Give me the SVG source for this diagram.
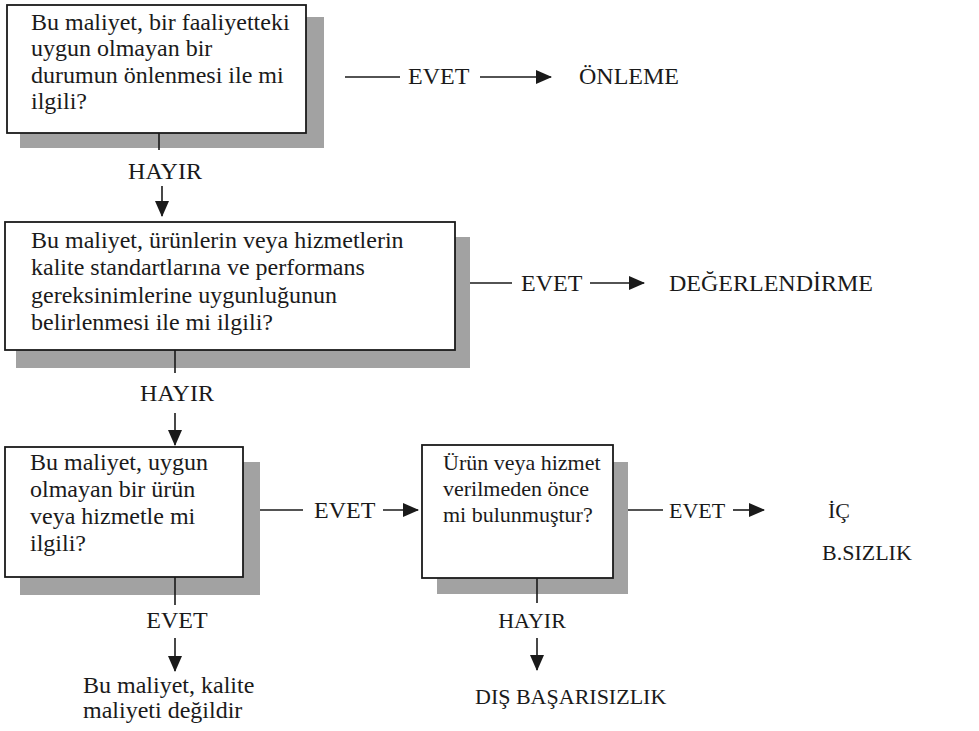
<svg xmlns="http://www.w3.org/2000/svg" width="979" height="731" viewBox="0 0 979 731">
<style>
  .box { fill: #ffffff; stroke: #1a1a1a; stroke-width: 1.8; }
  .shadow { fill: #a2a2a2; }
  .t { font-family: "Liberation Serif", "Times New Roman", serif; font-size: 24px; fill: #1a1a1a; }
  .lbl { font-family: "Liberation Serif", "Times New Roman", serif; font-size: 24px; fill: #1a1a1a; }
  .s { font-size: 22px; }
  .c { text-anchor: middle; }
  .ln { stroke: #1a1a1a; stroke-width: 1.6; fill: none; }
</style>
<defs>
  <marker id="ahB" markerWidth="16" markerHeight="14" refX="15" refY="7" orient="auto" markerUnits="userSpaceOnUse" viewBox="0 0 16 14">
    <path d="M0,0 L16,7 L0,14 Z" fill="#1a1a1a"/>
  </marker>
</defs>
<rect width="979" height="731" fill="#ffffff"/>

<g id="node-q1">
  <rect class="shadow" x="20" y="17" width="304" height="131"/>
  <rect class="box" x="7" y="5" width="299" height="128"/>
  <text class="t" x="31" y="30">Bu maliyet, bir faaliyetteki</text>
  <text class="t" x="31" y="56">uygun olmayan bir</text>
  <text class="t" x="31" y="83">durumun önlenmesi ile mi</text>
  <text class="t" x="31" y="109">ilgili?</text>
</g>

<g id="node-onleme">
  <text class="lbl" x="579" y="84">ÖNLEME</text>
</g>

<g id="node-q2">
  <rect class="shadow" x="16" y="237" width="454" height="131"/>
  <rect class="box" x="5" y="222" width="450" height="128"/>
  <text class="t" x="31" y="248">Bu maliyet, ürünlerin veya hizmetlerin</text>
  <text class="t" x="31" y="275">kalite standartlarına ve performans</text>
  <text class="t" x="31" y="303">gereksinimlerine uygunluğunun</text>
  <text class="t" x="31" y="330">belirlenmesi ile mi ilgili?</text>
</g>

<g id="node-degerlendirme">
  <text class="lbl" x="669" y="291">DEĞERLENDİRME</text>
</g>

<g id="node-q3">
  <rect class="shadow" x="20" y="462" width="240" height="133"/>
  <rect class="box" x="5" y="447" width="238" height="130"/>
  <text class="t" x="30" y="470">Bu maliyet, uygun</text>
  <text class="t" x="30" y="497">olmayan bir ürün</text>
  <text class="t" x="30" y="524">veya hizmetle mi</text>
  <text class="t" x="30" y="551">ilgili?</text>
</g>

<g id="node-q4">
  <rect class="shadow" x="437" y="462" width="191" height="132"/>
  <rect class="box" x="422" y="445" width="191" height="133"/>
  <text class="t s" x="443" y="470">Ürün veya hizmet</text>
  <text class="t s" x="443" y="496">verilmeden önce</text>
  <text class="t s" x="443" y="522">mi bulunmuştur?</text>
</g>

<g id="node-ic">
  <text class="lbl s" x="828" y="518">İÇ</text>
  <text class="lbl s" x="822" y="560">B.SIZLIK</text>
</g>

<g id="node-notquality">
  <text class="t" x="83" y="693">Bu maliyet, kalite</text>
  <text class="t" x="83" y="718">maliyeti değildir</text>
</g>

<g id="node-dis">
  <text class="lbl s" x="475" y="704">DIŞ BAŞARISIZLIK</text>
</g>

<g id="connectors">
  <line class="ln" x1="345" y1="77" x2="400" y2="77"/>
  <text class="lbl" x="408" y="84">EVET</text>
  <line class="ln" x1="480" y1="77" x2="551" y2="77" marker-end="url(#ahB)"/>

  <line class="ln" x1="159" y1="133" x2="159" y2="150"/>
  <text class="lbl c" x="165" y="179">HAYIR</text>
  <line class="ln" x1="162" y1="186" x2="162" y2="216" marker-end="url(#ahB)"/>

  <line class="ln" x1="470" y1="283" x2="512" y2="283"/>
  <text class="lbl" x="521" y="291">EVET</text>
  <line class="ln" x1="590" y1="283" x2="644" y2="283" marker-end="url(#ahB)"/>

  <line class="ln" x1="175" y1="350" x2="175" y2="373"/>
  <text class="lbl c" x="177" y="401">HAYIR</text>
  <line class="ln" x1="175" y1="413" x2="175" y2="445" marker-end="url(#ahB)"/>

  <line class="ln" x1="260" y1="510" x2="303" y2="510"/>
  <text class="lbl" x="314" y="518">EVET</text>
  <line class="ln" x1="383" y1="510" x2="418" y2="510" marker-end="url(#ahB)"/>

  <line class="ln" x1="175" y1="577" x2="175" y2="605"/>
  <text class="lbl c" x="177" y="628">EVET</text>
  <line class="ln" x1="175" y1="638" x2="175" y2="671" marker-end="url(#ahB)"/>

  <line class="ln" x1="628" y1="510" x2="663" y2="510"/>
  <text class="lbl s" x="669" y="518">EVET</text>
  <line class="ln" x1="733" y1="510" x2="764" y2="510" marker-end="url(#ahB)"/>

  <line class="ln" x1="537" y1="578" x2="537" y2="603"/>
  <text class="lbl s c" x="532" y="628">HAYIR</text>
  <line class="ln" x1="537" y1="638" x2="537" y2="670" marker-end="url(#ahB)"/>
</g>
</svg>
